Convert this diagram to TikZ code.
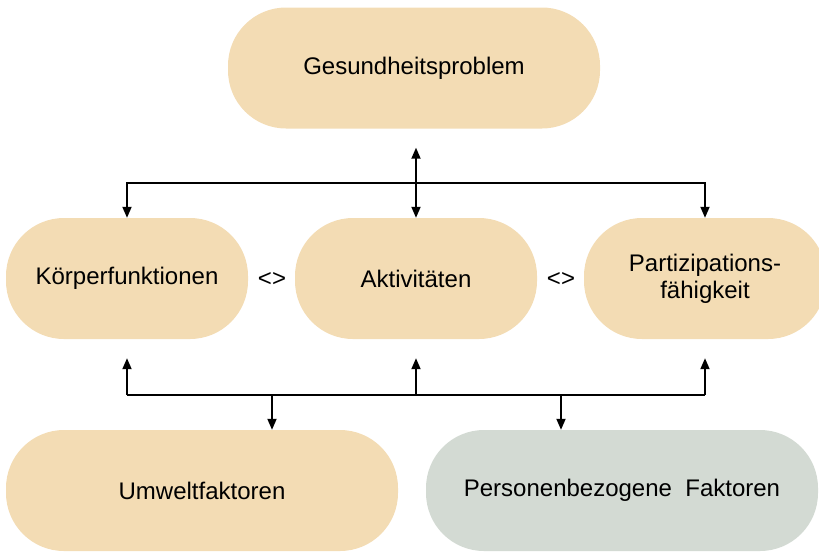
\documentclass[tikz,border=0pt]{standalone}
\usepackage{fontspec}
\setmainfont{Liberation Sans}
\usetikzlibrary{arrows.meta}
\definecolor{tanfill}{RGB}{243,220,180}
\definecolor{greyfill}{RGB}{211,218,211}
\begin{document}
\begin{tikzpicture}[x=1pt,y=-1pt,
  box/.style={fill=tanfill, draw=none, rounded corners=58pt, minimum height=121pt,
    align=center, font=\fontsize{24}{27}\selectfont, inner sep=0pt},
  lbl/.style={font=\fontsize{24}{27}\selectfont, inner sep=0pt},
  conn/.style={line width=1.8pt, draw=black},
  tip/.style={-{Triangle[length=11pt,width=9pt]}},
  dtip/.style={{Triangle[length=11pt,width=9pt]}-{Triangle[length=11pt,width=9pt]}}]
\useasboundingbox (0,0) rectangle (819,552);
\node[box, minimum width=372pt] (gp) at (414,68) {Gesundheitsproblem};
\node[box, minimum width=242pt] (kf) at (127,278.5) {Körperfunktionen};
\node[box, minimum width=242pt] (akt) at (416,278.5) {Aktivitäten};
\node[box, minimum width=242pt] (pf) at (705,278.5) {Partizipations-\\fähigkeit};
\node[box, minimum width=392pt] (uf) at (202,490.5) {Umweltfaktoren};
\node[box, fill=greyfill, minimum width=392pt] (pb) at (622,490.5) {Personenbezogene~~Faktoren};
\node[lbl] (l1) at (272,279) {<>};
\node[lbl] (l2) at (561,279) {<>};
\coordinate (hub1) at (416,183);
\coordinate (hub2) at (416,395);
% top connectors
\draw[conn, dtip, shorten <=19pt] (akt.north |- gp.south) -- (akt.north);
\draw[conn, tip] (hub1) -| (kf.north);
\draw[conn, tip] (hub1) -| (pf.north);
% bottom connectors
\draw[conn] (kf.south |- hub2) -- (pf.south |- hub2);
\draw[conn, tip, shorten >=19pt] (kf.south |- hub2) -- (kf.south);
\draw[conn, tip, shorten >=19pt] (hub2) -- (akt.south);
\draw[conn, tip, shorten >=19pt] (pf.south |- hub2) -- (pf.south);
\draw[conn, tip] (l1 |- hub2) -- (l1 |- uf.north);
\draw[conn, tip] (l2 |- hub2) -- (l2 |- pb.north);
\end{tikzpicture}
\end{document}
